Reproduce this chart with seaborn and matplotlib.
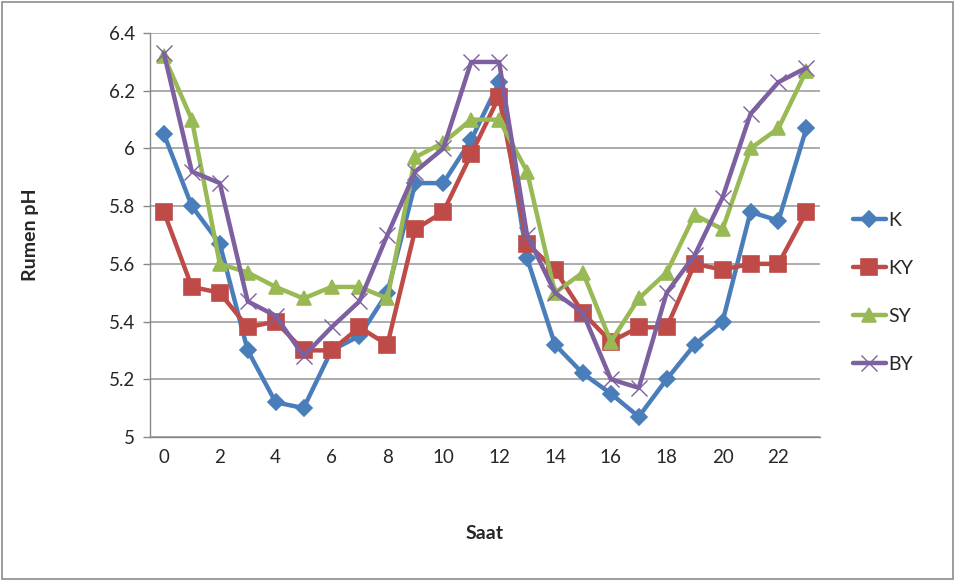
import numpy as np
import pandas as pd
import matplotlib
matplotlib.use("Agg")
import matplotlib.pyplot as plt
import seaborn as sns
from matplotlib.patches import Rectangle

hours = list(range(24))
K = [6.05, 5.80, 5.67, 5.30, 5.12, 5.10, 5.30, 5.35, 5.50, 5.88, 5.88, 6.03,
     6.23, 5.62, 5.32, 5.22, 5.15, 5.07, 5.20, 5.32, 5.40, 5.78, 5.75, 6.07]
KY = [5.78, 5.52, 5.50, 5.38, 5.40, 5.30, 5.30, 5.38, 5.32, 5.72, 5.78, 5.98,
      6.18, 5.67, 5.58, 5.43, 5.33, 5.38, 5.38, 5.60, 5.58, 5.60, 5.60, 5.78]
SY = [6.32, 6.10, 5.60, 5.57, 5.52, 5.48, 5.52, 5.52, 5.48, 5.97, 6.02, 6.10,
      6.10, 5.92, 5.50, 5.57, 5.33, 5.48, 5.57, 5.77, 5.72, 6.00, 6.07, 6.27]
BY = [6.33, 5.92, 5.88, 5.47, 5.42, 5.28, 5.38, 5.47, 5.70, 5.92, 6.00, 6.30,
      6.30, 5.70, 5.50, 5.43, 5.20, 5.17, 5.50, 5.63, 5.83, 6.12, 6.23, 6.28]
series_names = ["K", "KY", "SY", "BY"]
yticks = [5.0, 5.2, 5.4, 5.6, 5.8, 6.0, 6.2, 6.4]
ytick_labels = ["5", "5.2", "5.4", "5.6", "5.8", "6", "6.2", "6.4"]
xtick_vals = list(range(0, 24, 2))

sns.set_style("white")
plt.rcParams['font.family'] = ['Lato', 'DejaVu Sans']

colors = {"K": "#4A7EBB", "KY": "#BE4B48", "SY": "#98B954", "BY": "#7D60A0"}
markers = {"K": "D", "KY": "s", "SY": "^", "BY": "x"}
msizes = {"K": 8, "KY": 11, "SY": 10, "BY": 11}

fig = plt.figure(figsize=(9.55, 5.81), dpi=100)
ax = fig.add_axes([0.157, 0.248, 0.702, 0.695])

data = {"K": K, "KY": KY, "SY": SY, "BY": BY}
for name in series_names:
    sns.lineplot(x=hours, y=data[name], ax=ax, color=colors[name], linewidth=3.2,
                 marker=markers[name], markersize=msizes[name],
                 markeredgecolor=colors[name], markeredgewidth=1.2 if name != "BY" else 1.0,
                 label=name)

ax.set_xlim(-0.5, 23.5)
ax.set_ylim(5.0, 6.4)
ax.set_yticks(yticks)
ax.set_yticklabels(ytick_labels, fontsize=13.5)
ax.set_xticks(xtick_vals)
ax.set_xticklabels([str(v) for v in xtick_vals], fontsize=13.5)
ax.set_xticks(np.arange(-0.5, 24, 1), minor=True)
ax.tick_params(axis="x", which="major", length=0, pad=9)
ax.tick_params(axis="x", which="minor", length=5, color="#888888", width=1)
ax.tick_params(axis="y", length=5, color="#888888", width=1, pad=6, left=True)
ax.yaxis.grid(True, color="#A6A6A6", linewidth=1.3)
ax.xaxis.grid(False)
for s in ["top", "right"]:
    ax.spines[s].set_visible(False)
for s in ["left", "bottom"]:
    ax.spines[s].set_color("#888888")
    ax.spines[s].set_linewidth(1)

ax.set_xlabel("Saat", fontsize=14, fontweight="bold", labelpad=42)
ax.set_ylabel("Rumen pH", fontsize=14, fontweight="bold", labelpad=50)

leg = ax.legend(loc="center left", bbox_to_anchor=(1.022, 0.358), frameon=False,
                fontsize=14, handlelength=1.7, handletextpad=0.15, labelspacing=1.6)

fig.patches.append(Rectangle((0.002, 0.003), 0.996, 0.994, transform=fig.transFigure,
                             fill=False, edgecolor="#8C8C8C", linewidth=1.2))

fig.savefig("out.png", dpi=100)
